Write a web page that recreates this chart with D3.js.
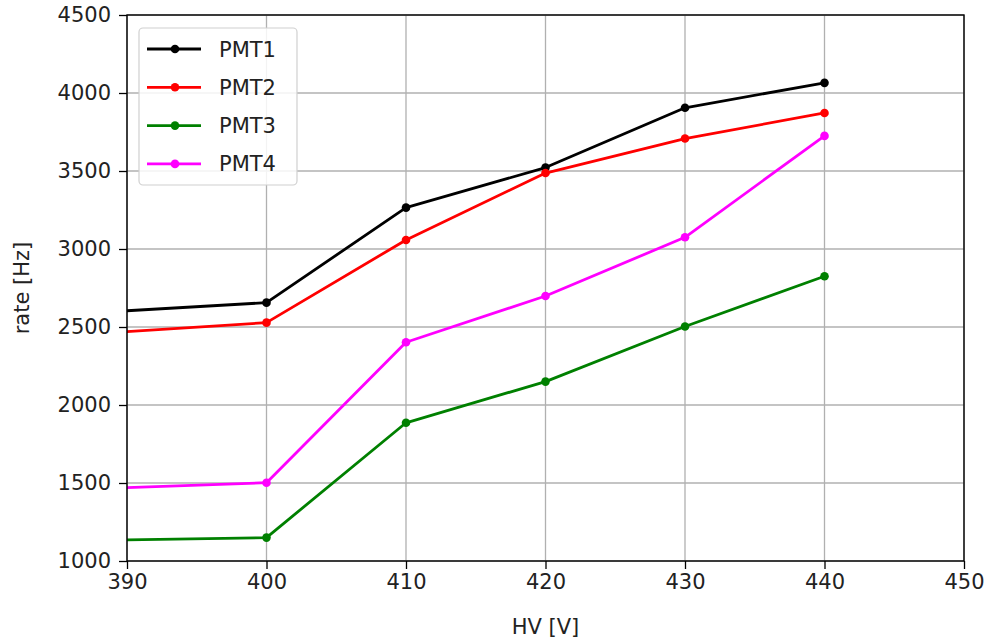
<!DOCTYPE html>
<html>
<head>
<meta charset="utf-8">
<script src="https://cdn.jsdelivr.net/npm/d3@7"></script>
<style>
  html, body { margin: 0; padding: 0; background: #fff; }
  svg { display: block; font-family: "DejaVu Sans", sans-serif; }
</style>
</head>
<body>
<svg id="chart" width="988" height="644"></svg>
<script>
// High voltage settings (V) and measured counting rates (Hz) per PMT
const hv = [380, 400, 410, 420, 430, 440];
const pmt1 = [2552, 2656, 3265, 3522, 3905, 4065];
const pmt2 = [2412, 2528, 3058, 3487, 3708, 3872];
const pmt3 = [1120, 1150, 1886, 2150, 2503, 2825];
const pmt4 = [1438, 1502, 2402, 2699, 3075, 3725];

const seriesNames = ["PMT1", "PMT2", "PMT3", "PMT4"];
const seriesColors = ["#000000", "#ff0000", "#008000", "#ff00ff"];
const seriesValues = [pmt1, pmt2, pmt3, pmt4];

const xTicks = [390, 400, 410, 420, 430, 440, 450];
const yTicks = [1000, 1500, 2000, 2500, 3000, 3500, 4000, 4500];

const svg = d3.select("#chart");
const m = { left: 127, right: 964, top: 15, bottom: 561 };
const fontSize = "21px";

const x = d3.scaleLinear().domain([390, 450]).range([m.left, m.right]);
const y = d3.scaleLinear().domain([1000, 4500]).range([m.bottom, m.top]);

svg.append("defs").append("clipPath").attr("id", "plot-clip")
  .append("rect")
  .attr("x", m.left).attr("y", m.top)
  .attr("width", m.right - m.left).attr("height", m.bottom - m.top);

// grid
const grid = svg.append("g").attr("stroke", "#b0b0b0").attr("stroke-width", 1.3);
grid.selectAll("line.gx").data(xTicks).join("line")
  .attr("x1", d => x(d)).attr("x2", d => x(d))
  .attr("y1", m.top).attr("y2", m.bottom);
grid.selectAll("line.gy").data(yTicks).join("line")
  .attr("y1", d => y(d)).attr("y2", d => y(d))
  .attr("x1", m.left).attr("x2", m.right);

// series
const plot = svg.append("g").attr("clip-path", "url(#plot-clip)");
const line = d3.line().x((d, i) => x(hv[i])).y(d => y(d));
seriesValues.forEach((vals, k) => {
  plot.append("path").datum(vals)
    .attr("d", line)
    .attr("fill", "none")
    .attr("stroke", seriesColors[k])
    .attr("stroke-width", 2.8)
    .attr("stroke-linejoin", "round");
  plot.selectAll(null).data(vals).join("circle")
    .attr("cx", (d, i) => x(hv[i]))
    .attr("cy", d => y(d))
    .attr("r", 4.3)
    .attr("fill", seriesColors[k]);
});

// axes
const xAxis = d3.axisBottom(x).tickValues(xTicks).tickSize(8).tickPadding(5).tickFormat(d3.format("d"));
const yAxis = d3.axisLeft(y).tickValues(yTicks).tickSize(8).tickPadding(8).tickFormat(d3.format("d"));

const gx = svg.append("g").attr("transform", `translate(0,${m.bottom})`).call(xAxis);
const gy = svg.append("g").attr("transform", `translate(${m.left},0)`).call(yAxis);
[gx, gy].forEach(g => {
  g.select(".domain").remove();
  g.selectAll(".tick line").attr("stroke", "#000").attr("stroke-width", 1.3);
  g.selectAll(".tick text").attr("fill", "#222").style("font-size", fontSize)
    .style("font-family", "'DejaVu Sans', sans-serif");
});

// frame
svg.append("rect")
  .attr("x", m.left).attr("y", m.top)
  .attr("width", m.right - m.left).attr("height", m.bottom - m.top)
  .attr("fill", "none").attr("stroke", "#000").attr("stroke-width", 1.4);

// axis titles
svg.append("text")
  .attr("x", (m.left + m.right) / 2).attr("y", 634)
  .attr("text-anchor", "middle")
  .attr("fill", "#222")
  .style("font-size", fontSize)
  .text("HV [V]");
svg.append("text")
  .attr("transform", `translate(29,${(m.top + m.bottom) / 2}) rotate(-90)`)
  .attr("text-anchor", "middle")
  .attr("fill", "#222")
  .style("font-size", fontSize)
  .text("rate [Hz]");

// legend
const lg = svg.append("g");
lg.append("rect")
  .attr("x", 139).attr("y", 28).attr("width", 158).attr("height", 157)
  .attr("rx", 4).attr("fill", "#fff").attr("fill-opacity", 0.85)
  .attr("stroke", "#d0d0d0").attr("stroke-width", 1.2);
seriesNames.forEach((name, k) => {
  const yy = 49 + k * 38.3;
  lg.append("line")
    .attr("x1", 147).attr("x2", 201).attr("y1", yy).attr("y2", yy)
    .attr("stroke", seriesColors[k]).attr("stroke-width", 2.8);
  lg.append("circle").attr("cx", 175).attr("cy", yy).attr("r", 4.3).attr("fill", seriesColors[k]);
  lg.append("text")
    .attr("x", 219).attr("y", yy).attr("dy", "0.36em")
    .attr("fill", "#222")
    .style("font-size", fontSize)
    .text(name);
});
</script>
</body>
</html>
